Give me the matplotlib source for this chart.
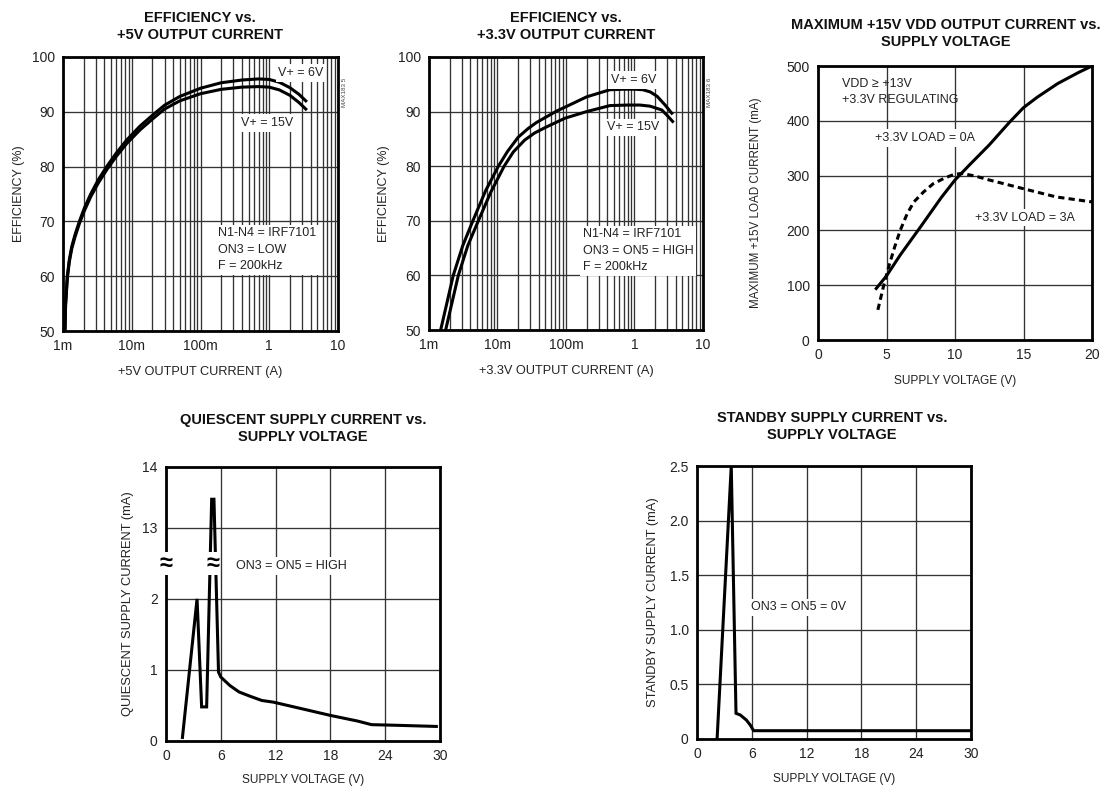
import numpy as np
import matplotlib
matplotlib.use("Agg")
import matplotlib.pyplot as plt
import matplotlib.transforms as mtransforms
from matplotlib import font_manager
from matplotlib.ticker import FixedLocator, LogLocator, NullFormatter, FixedFormatter

# ---------------- data ----------------
# Efficiency vs +5V output current
eff5_x = [0.00107, 0.00109, 0.001155, 0.001235, 0.00134, 0.00149, 0.00173, 0.00204, 0.00253, 0.00326,
          0.00432, 0.0059, 0.00844, 0.0132, 0.021, 0.03, 0.05, 0.1, 0.2, 0.4, 0.7, 1.0, 1.4, 2.0, 2.7, 3.4]
eff5_6v_y = [50.5, 55.0, 60.0, 63.0, 65.4, 67.5, 70.0, 72.4, 75.0, 77.6,
             80.0, 82.4, 84.85, 87.4, 89.6, 91.2, 92.8, 94.3, 95.3, 95.8, 96.0, 95.9, 95.4, 94.4, 93.2, 92.0]
eff5_15v_y = [50.0, 54.6, 59.6, 62.6, 65.0, 67.1, 69.6, 71.9, 74.5, 77.0,
              79.4, 81.8, 84.2, 86.7, 88.9, 90.5, 92.0, 93.3, 94.1, 94.5, 94.6, 94.5, 94.0, 93.0, 91.7, 90.5]

# Efficiency vs +3.3V output current
eff3_6v_x = [0.00148, 0.00226, 0.0031, 0.00437, 0.0067, 0.0103, 0.014, 0.02, 0.028, 0.037, 0.073, 0.1, 0.2,
             0.437, 0.7, 1.0, 1.33, 1.7, 2.14, 2.8, 3.5]
eff3_6v_y = [50.0, 60.0, 65.4, 70.0, 75.5, 80.0, 82.7, 85.3, 86.9, 88.0, 90.1, 90.9, 92.7,
             94.0, 94.1, 94.1, 94.0, 93.6, 92.8, 91.2, 89.7]
eff3_15v_x = [0.00175, 0.00268, 0.00367, 0.00525, 0.00795, 0.0125, 0.017, 0.025, 0.035, 0.052, 0.097, 0.2,
              0.437, 0.8, 1.2, 1.68, 2.5, 3.0, 3.6]
eff3_15v_y = [50.0, 60.0, 65.4, 70.0, 75.2, 80.0, 82.6, 84.8, 86.1, 87.2, 88.8, 90.0,
              91.1, 91.2, 91.2, 91.0, 90.3, 89.3, 88.2]

# Maximum +15V VDD output current vs supply voltage
vdd_0a_v = [4.25, 5.0, 6.0, 7.5, 9.0, 10.0, 11.0, 12.5, 14.0, 15.0, 16.0, 17.5, 19.0, 20.0]
vdd_0a_i = [94, 117, 155, 207, 260, 292, 318, 356, 398, 424, 443, 468, 488, 500]
vdd_3a_v = [4.37, 4.8, 5.2, 5.6, 6.0, 6.5, 7.0, 7.7, 8.4, 9.2, 9.9, 10.5, 11.5, 12.5, 15.0, 17.4, 20.0]
vdd_3a_i = [55, 100, 137, 170, 200, 230, 252, 270, 285, 295, 302, 304, 299, 292, 276, 261, 252]

# Quiescent supply current vs supply voltage
q_v = [1.8, 3.4, 3.9, 4.45, 5.0, 5.25, 5.75, 6.0, 7.0, 8.0, 9.2, 10.5, 11.75, 15.0, 18.0, 21.0, 22.5, 25.0, 29.6]
q_i = [0.05, 2.0, 0.48, 0.48, 13.47, 13.47, 0.97, 0.9, 0.78, 0.69, 0.63, 0.57, 0.547, 0.45, 0.36, 0.28, 0.23, 0.222, 0.205]

# Standby supply current vs supply voltage
s_v = [2.2, 3.75, 4.27, 4.74, 5.4, 5.83, 6.2, 29.9]
s_i = [0.0, 2.5, 0.235, 0.22, 0.174, 0.128, 0.076, 0.076]

log_ticks = [1e-3, 1e-2, 1e-1, 1, 10]
log_labels = ["1m", "10m", "100m", "1", "10"]
eff_ticks = [50, 60, 70, 80, 90, 100]
vdd_v_ticks = [0, 5, 10, 15, 20]
vdd_i_ticks = [0, 100, 200, 300, 400, 500]
sv_ticks = [0, 6, 12, 18, 24, 30]
q_ticks = [0, 1, 2, 13, 14]
s_ticks = [0, 0.5, 1.0, 1.5, 2.0, 2.5]
s_labels = ["0", "0.5", "1.0", "1.5", "2.0", "2.5"]

# ---------------- style ----------------
avail = {f.name for f in font_manager.fontManager.ttflist}
narrow = "Liberation Sans Narrow" if "Liberation Sans Narrow" in avail else "Liberation Sans"
plt.rcParams["font.family"] = [narrow, "DejaVu Sans"]
plt.rcParams["lines.scale_dashes"] = False

W, H = 1102, 789
fig = plt.figure(figsize=(W / 100, H / 100), dpi=100)

def rect(l, t, r, b):
    return [l / W, 1 - b / H, (r - l) / W, (b - t) / H]

GRID = dict(color="#333333", linewidth=0.95)
TXT = 9.0
LW = 2.2
INK = "#222222"

def style(ax):
    for s in ax.spines.values():
        s.set_linewidth(2.0)
        s.set_zorder(5)
    ax.tick_params(which="both", length=0, labelsize=10, pad=6, colors=INK)
    ax.set_axisbelow(True)

def boxed(ax, x, y, s, ha="center", va="center", **kw):
    ax.text(x, y, s, transform=ax.transAxes, ha=ha, va=va, fontsize=TXT, color=INK,
            bbox=dict(facecolor="white", edgecolor="none", pad=2.0), zorder=4, **kw)

def labels(ax, xl, yl, xly, ylx, xs=9.5, ys=9.5):
    ax.set_xlabel(xl, fontsize=xs, color=INK)
    ax.set_ylabel(yl, fontsize=ys, color=INK)
    ax.xaxis.set_label_coords(0.5, xly)
    ax.xaxis.label.set_va("center")
    ax.yaxis.set_label_coords(ylx, 0.5)
    ax.yaxis.label.set_va("center")

def title(x, y, s):
    fig.text(x / W, 1 - y / H, s, ha="center", va="center", fontsize=10.5, fontweight="bold",
             linespacing=1.25, color="#111111")

def log_axes(ax):
    ax.set_xscale("log")
    ax.set_xlim(1e-3, 10)
    ax.set_ylim(50, 100)
    ax.xaxis.set_major_locator(FixedLocator(log_ticks))
    ax.xaxis.set_major_formatter(FixedFormatter(log_labels))
    ax.xaxis.set_minor_locator(LogLocator(base=10, subs=np.arange(2, 10)))
    ax.xaxis.set_minor_formatter(NullFormatter())
    ax.yaxis.set_major_locator(FixedLocator(eff_ticks))
    ax.grid(which="both", axis="x", **GRID)
    ax.grid(which="major", axis="y", **GRID)

# ---- chart 1 ----
ax1 = fig.add_axes(rect(63, 57, 338, 331))
log_axes(ax1)
ax1.plot(eff5_x, eff5_6v_y, color="black", lw=LW, zorder=3)
ax1.plot(eff5_x, eff5_15v_y, color="black", lw=LW, zorder=3)
style(ax1)
boxed(ax1, 0.8655, 0.942, "V+ = 6V")
boxed(ax1, 0.7436, 0.759, "V+ = 15V")
boxed(ax1, 0.5636, 0.378, "N1-N4 = IRF7101\nON3 = LOW\nF = 200kHz", ha="left", va="top", linespacing=1.5)
labels(ax1, "+5V OUTPUT CURRENT (A)", "EFFICIENCY (%)", -0.1496, -0.16, xs=9.2, ys=9.0)
title(200, 26.5, "EFFICIENCY vs.\n+5V OUTPUT CURRENT")
ax1.text(1.025, 0.87, "MAX183 5", transform=ax1.transAxes, rotation=90, fontsize=4.5,
         ha="center", va="center", color="#444444")

# ---- chart 2 ----
ax2 = fig.add_axes(rect(429, 57, 703, 330))
log_axes(ax2)
ax2.plot(eff3_6v_x, eff3_6v_y, color="black", lw=LW, zorder=3)
ax2.plot(eff3_15v_x, eff3_15v_y, color="black", lw=LW, zorder=3)
style(ax2)
boxed(ax2, 0.746, 0.916, "V+ = 6V")
boxed(ax2, 0.745, 0.742, "V+ = 15V")
boxed(ax2, 0.562, 0.372, "N1-N4 = IRF7101\nON3 = ON5 = HIGH\nF = 200kHz", ha="left", va="top", linespacing=1.5)
labels(ax2, "+3.3V OUTPUT CURRENT (A)", "EFFICIENCY (%)", -0.1496, -0.166, xs=9.2, ys=9.0)
title(566, 26.5, "EFFICIENCY vs.\n+3.3V OUTPUT CURRENT")
ax2.text(1.025, 0.87, "MAX183 6", transform=ax2.transAxes, rotation=90, fontsize=4.5,
         ha="center", va="center", color="#444444")

# ---- chart 3 ----
ax3 = fig.add_axes(rect(818, 66, 1092, 340))
ax3.set_xlim(0, 20)
ax3.set_ylim(0, 500)
ax3.xaxis.set_major_locator(FixedLocator(vdd_v_ticks))
ax3.yaxis.set_major_locator(FixedLocator(vdd_i_ticks))
ax3.grid(which="major", **GRID)
ax3.plot(vdd_0a_v, vdd_0a_i, color="black", lw=LW, zorder=3)
ax3.plot(vdd_3a_v, vdd_3a_i, color="black", lw=LW, ls=(0, (4.5, 3.0)), zorder=3)
style(ax3)
ax3.text(0.0876, 0.956, "VDD \u2265 +13V\n+3.3V REGULATING", transform=ax3.transAxes, ha="left", va="top",
         fontsize=TXT, color=INK, linespacing=1.4)
boxed(ax3, 0.39, 0.737, "+3.3V LOAD = 0A")
boxed(ax3, 0.757, 0.447, "+3.3V LOAD = 3A")
labels(ax3, "SUPPLY VOLTAGE (V)", "MAXIMUM +15V LOAD CURRENT (mA)", -0.148, -0.2245, xs=8.6, ys=8.4)
title(946, 33.5, "MAXIMUM +15V VDD OUTPUT CURRENT vs.\nSUPPLY VOLTAGE")

# ---- chart 4 (broken y axis) ----
K = 0.856

def fwd(v):
    v = np.asarray(v, dtype=float)
    return np.where(v <= 2, v, np.where(v < 13, 2 + (v - 2) / 11.0, 3 + (v - 13) * K))

def inv(u):
    u = np.asarray(u, dtype=float)
    return np.where(u <= 2, u, np.where(u < 3, 2 + (u - 2) * 11.0, 13 + (u - 3) / K))

ax4 = fig.add_axes(rect(166, 467, 440, 741))
ax4.set_yscale("function", functions=(fwd, inv))
ax4.set_xlim(0, 30)
ax4.set_ylim(0, 14)
ax4.xaxis.set_major_locator(FixedLocator(sv_ticks))
ax4.yaxis.set_major_locator(FixedLocator(q_ticks))
ax4.yaxis.set_major_formatter(FixedFormatter([str(t) for t in q_ticks]))
ax4.yaxis.set_minor_locator(FixedLocator([]))
ax4.grid(which="major", **GRID)
ax4.plot(q_v, q_i, color="black", lw=LW, zorder=3, solid_joinstyle="miter")
style(ax4)
brk = mtransforms.blended_transform_factory(ax4.transAxes, ax4.transData)
ax4.text(0.0, 7.5, "\u2248", transform=brk, ha="center", va="center", fontsize=17, zorder=6,
         fontweight="bold", bbox=dict(facecolor="white", edgecolor="none", pad=0.0))
ax4.text(5.1, 7.5, "\u2248", ha="center", va="center", fontsize=17, zorder=6,
         fontweight="bold", bbox=dict(facecolor="white", edgecolor="none", pad=0.0))
boxed(ax4, 0.456, 0.639, "ON3 = ON5 = HIGH")
labels(ax4, "SUPPLY VOLTAGE (V)", "QUIESCENT SUPPLY CURRENT (mA)", -0.142, -0.1405, xs=8.6, ys=9.3)
title(303, 428.5, "QUIESCENT SUPPLY CURRENT vs.\nSUPPLY VOLTAGE")

# ---- chart 5 ----
ax5 = fig.add_axes(rect(697, 466, 971, 739))
ax5.set_xlim(0, 30)
ax5.set_ylim(0, 2.5)
ax5.xaxis.set_major_locator(FixedLocator(sv_ticks))
ax5.yaxis.set_major_locator(FixedLocator(s_ticks))
ax5.yaxis.set_major_formatter(FixedFormatter(s_labels))
ax5.grid(which="major", **GRID)
ax5.plot(s_v, s_i, color="black", lw=LW, zorder=3, solid_joinstyle="miter")
style(ax5)
boxed(ax5, 0.369, 0.482, "ON3 = ON5 = 0V")
labels(ax5, "SUPPLY VOLTAGE (V)", "STANDBY SUPPLY CURRENT (mA)", -0.145, -0.159, xs=8.6, ys=9.3)
title(832, 426.5, "STANDBY SUPPLY CURRENT vs.\nSUPPLY VOLTAGE")

fig.savefig("out.png", dpi=100, facecolor="white")
